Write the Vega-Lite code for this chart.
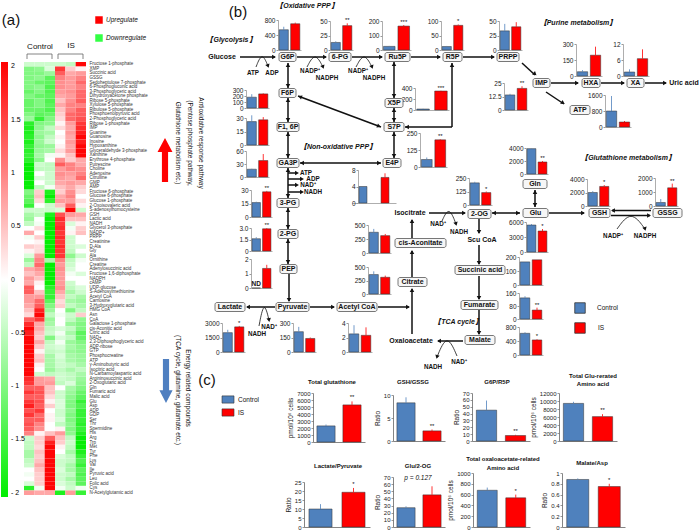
{
"$schema":"https://vega.github.io/schema/vega-lite/v6.json",
"width":700,"height":532,"padding":0,"autosize":{"type":"none"},"background":"white",
"config":{"font":"Liberation Sans","view":{"stroke":null},
"axis":{"grid":false,"labelFontSize":6.5,"labelColor":"#222","labelFont":"Liberation Sans","domainColor":"#999","domainWidth":0.8,"tickColor":"#999","tickSize":2,"labelPadding":1,"labelOverlap":false,"titleFontSize":6.5,"titleFontWeight":"normal","titleColor":"#222","titlePadding":3,"titleFont":"Liberation Sans"},
"range":{"category":["#4f81bd","#ff0000"]},
"bar":{"stroke":"#333","strokeWidth":0.5},
"text":{"font":"Liberation Sans","color":"#111"}},
"resolve":{"scale":{"x":"independent","y":"independent"}},
"datasets":{
"names":[{"r":1,"m":"Fructose 1-phosphate"},{"r":2,"m":"XMP"},{"r":3,"m":"Succinic acid"},{"r":4,"m":"GSSG"},{"r":5,"m":"Sedoheptulose 7-phosphate"},{"r":6,"m":"6-Phosphogluconic acid"},{"r":7,"m":"3-Phosphoglyceric acid"},{"r":8,"m":"Dihydroxyacetone phosphate"},{"r":9,"m":"Ribose 5-phosphate"},{"r":10,"m":"Xylulose 5-phosphate"},{"r":11,"m":"Ribulose 5-phosphate"},{"r":12,"m":"Phosphoenolpyruvic acid"},{"r":13,"m":"2-Phosphoglyceric acid"},{"r":14,"m":"Ribose 1-phosphate"},{"r":15,"m":"IMP"},{"r":16,"m":"Guanine"},{"r":17,"m":"Guanosine"},{"r":18,"m":"Inosine"},{"r":19,"m":"Hypoxanthine"},{"r":20,"m":"Glyceraldehyde 3-phosphate"},{"r":21,"m":"Xanthine"},{"r":22,"m":"Erythrose 4-phosphate"},{"r":23,"m":"Putrescine"},{"r":24,"m":"Choline"},{"r":25,"m":"Adenosine"},{"r":26,"m":"Citrulline"},{"r":27,"m":"GMP"},{"r":28,"m":"AMP"},{"r":29,"m":"Fructose 6-phosphate"},{"r":30,"m":"Glucose 6-phosphate"},{"r":31,"m":"Glucose 1-phosphate"},{"r":32,"m":"2-Oxoisovaleric acid"},{"r":33,"m":"S-adenosylhomocysteine"},{"r":34,"m":"GSH"},{"r":35,"m":"Lactic acid"},{"r":36,"m":"NADH"},{"r":37,"m":"Glycerol 3-phosphate"},{"r":38,"m":"NADP+"},{"r":39,"m":"PRPP"},{"r":40,"m":"Creatinine"},{"r":41,"m":"D-Ala"},{"r":42,"m":"Gly"},{"r":43,"m":"Ala"},{"r":44,"m":"Ornithine"},{"r":45,"m":"Creatine"},{"r":46,"m":"Adenylosuccinic acid"},{"r":47,"m":"Fructose 1,6-diphosphate"},{"r":48,"m":"NADPH"},{"r":49,"m":"cAMP"},{"r":50,"m":"UDP-glucose"},{"r":51,"m":"S-Adenosylmethionine"},{"r":52,"m":"Acetyl CoA"},{"r":53,"m":"Carnosine"},{"r":54,"m":"3-Hydroxyglutaric acid"},{"r":55,"m":"HMG CoA"},{"r":56,"m":"Asn"},{"r":57,"m":"CoA"},{"r":58,"m":"Galactose 1-phosphate"},{"r":59,"m":"cis-Aconitic acid"},{"r":60,"m":"Citric acid"},{"r":61,"m":"NAD+"},{"r":62,"m":"2,3-Diphosphoglyceric acid"},{"r":63,"m":"ADP-ribose"},{"r":64,"m":"GTP"},{"r":65,"m":"Phosphocreatine"},{"r":66,"m":"ATP"},{"r":67,"m":"γ-Aminobutyric acid"},{"r":68,"m":"Isocitric acid"},{"r":69,"m":"N-Carbamoylaspartic acid"},{"r":70,"m":"Argininosuccinic acid"},{"r":71,"m":"2-Oxoglutaric acid"},{"r":72,"m":"Gln"},{"r":73,"m":"Fumaric acid"},{"r":74,"m":"Malic acid"},{"r":75,"m":"Glu"},{"r":76,"m":"Asp"},{"r":77,"m":"ADP"},{"r":78,"m":"GDP"},{"r":79,"m":"Ser"},{"r":80,"m":"Thr"},{"r":81,"m":"Spermidine"},{"r":82,"m":"His"},{"r":83,"m":"Arg"},{"r":84,"m":"Trp"},{"r":85,"m":"Met"},{"r":86,"m":"Tyr"},{"r":87,"m":"Phe"},{"r":88,"m":"Lys"},{"r":89,"m":"Val"},{"r":90,"m":"Ile"},{"r":91,"m":"Pyruvic acid"},{"r":92,"m":"Leu"},{"r":93,"m":"Folic acid"},{"r":94,"m":"Cys"},{"r":95,"m":"N-Acetylglutamic acid"}],
"hm":[
{"r":1,"s":1,"v":-0.4},{"r":1,"s":2,"v":-0.4},{"r":1,"s":3,"v":-0.4},{"r":1,"s":4,"v":-0.4},{"r":1,"s":5,"v":-0.5},{"r":1,"s":6,"v":2.0},
{"r":2,"s":1,"v":-1.0},{"r":2,"s":2,"v":-0.9},{"r":2,"s":3,"v":-0.3},{"r":2,"s":4,"v":1.6},{"r":2,"s":5,"v":0.4},{"r":2,"s":6,"v":0.1},
{"r":3,"s":1,"v":-1.0},{"r":3,"s":2,"v":-1.0},{"r":3,"s":3,"v":-0.8},{"r":3,"s":4,"v":1.3},{"r":3,"s":5,"v":0.7},{"r":3,"s":6,"v":0.8},
{"r":4,"s":1,"v":-1.0},{"r":4,"s":2,"v":-0.9},{"r":4,"s":3,"v":-1.3},{"r":4,"s":4,"v":1.0},{"r":4,"s":5,"v":0.8},{"r":4,"s":6,"v":1.0},
{"r":5,"s":1,"v":-1.0},{"r":5,"s":2,"v":-1.2},{"r":5,"s":3,"v":-1.3},{"r":5,"s":4,"v":0.9},{"r":5,"s":5,"v":0.8},{"r":5,"s":6,"v":1.2},
{"r":6,"s":1,"v":-1.0},{"r":6,"s":2,"v":-0.9},{"r":6,"s":3,"v":-1.4},{"r":6,"s":4,"v":0.9},{"r":6,"s":5,"v":0.8},{"r":6,"s":6,"v":1.0},
{"r":7,"s":1,"v":-1.2},{"r":7,"s":2,"v":-1.0},{"r":7,"s":3,"v":-1.4},{"r":7,"s":4,"v":0.8},{"r":7,"s":5,"v":0.9},{"r":7,"s":6,"v":1.2},
{"r":8,"s":1,"v":-1.0},{"r":8,"s":2,"v":-1.2},{"r":8,"s":3,"v":-1.3},{"r":8,"s":4,"v":0.7},{"r":8,"s":5,"v":0.8},{"r":8,"s":6,"v":1.2},
{"r":9,"s":1,"v":-1.2},{"r":9,"s":2,"v":-1.0},{"r":9,"s":3,"v":-1.4},{"r":9,"s":4,"v":0.5},{"r":9,"s":5,"v":0.9},{"r":9,"s":6,"v":1.3},
{"r":10,"s":1,"v":-1.2},{"r":10,"s":2,"v":-1.0},{"r":10,"s":3,"v":-1.3},{"r":10,"s":4,"v":0.7},{"r":10,"s":5,"v":1.0},{"r":10,"s":6,"v":1.0},
{"r":11,"s":1,"v":-1.2},{"r":11,"s":2,"v":-1.2},{"r":11,"s":3,"v":-1.4},{"r":11,"s":4,"v":0.5},{"r":11,"s":5,"v":1.0},{"r":11,"s":6,"v":1.3},
{"r":12,"s":1,"v":-1.0},{"r":12,"s":2,"v":-1.3},{"r":12,"s":3,"v":-1.2},{"r":12,"s":4,"v":0.4},{"r":12,"s":5,"v":1.2},{"r":12,"s":6,"v":1.3},
{"r":13,"s":1,"v":-0.8},{"r":13,"s":2,"v":-1.6},{"r":13,"s":3,"v":-1.0},{"r":13,"s":4,"v":0.3},{"r":13,"s":5,"v":1.2},{"r":13,"s":6,"v":1.4},
{"r":14,"s":1,"v":-1.7},{"r":14,"s":2,"v":-1.0},{"r":14,"s":3,"v":-0.9},{"r":14,"s":4,"v":0.1},{"r":14,"s":5,"v":0.8},{"r":14,"s":6,"v":1.6},
{"r":15,"s":1,"v":-1.8},{"r":15,"s":2,"v":-0.9},{"r":15,"s":3,"v":-0.5},{"r":15,"s":4,"v":0.3},{"r":15,"s":5,"v":0.7},{"r":15,"s":6,"v":1.7},
{"r":16,"s":1,"v":-1.8},{"r":16,"s":2,"v":-0.8},{"r":16,"s":3,"v":-0.7},{"r":16,"s":4,"v":0},{"r":16,"s":5,"v":0.8},{"r":16,"s":6,"v":1.8},
{"r":17,"s":1,"v":-1.7},{"r":17,"s":2,"v":-0.9},{"r":17,"s":3,"v":-0.5},{"r":17,"s":4,"v":0.1},{"r":17,"s":5,"v":0.7},{"r":17,"s":6,"v":2.0},
{"r":18,"s":1,"v":-1.8},{"r":18,"s":2,"v":-0.8},{"r":18,"s":3,"v":-0.4},{"r":18,"s":4,"v":0},{"r":18,"s":5,"v":0.8},{"r":18,"s":6,"v":1.8},
{"r":19,"s":1,"v":-1.6},{"r":19,"s":2,"v":-0.9},{"r":19,"s":3,"v":-0.8},{"r":19,"s":4,"v":0.1},{"r":19,"s":5,"v":0.7},{"r":19,"s":6,"v":2.0},
{"r":20,"s":1,"v":-1.7},{"r":20,"s":2,"v":-0.8},{"r":20,"s":3,"v":-0.7},{"r":20,"s":4,"v":0.3},{"r":20,"s":5,"v":0.8},{"r":20,"s":6,"v":2.0},
{"r":21,"s":1,"v":-1.6},{"r":21,"s":2,"v":-0.7},{"r":21,"s":3,"v":-0.1},{"r":21,"s":4,"v":0.1},{"r":21,"s":5,"v":0.5},{"r":21,"s":6,"v":2.0},
{"r":22,"s":1,"v":-1.7},{"r":22,"s":2,"v":-0.9},{"r":22,"s":3,"v":0},{"r":22,"s":4,"v":0.9},{"r":22,"s":5,"v":0.4},{"r":22,"s":6,"v":0.7},
{"r":23,"s":1,"v":-2.0},{"r":23,"s":2,"v":-0.4},{"r":23,"s":3,"v":-0.5},{"r":23,"s":4,"v":1.3},{"r":23,"s":5,"v":1.0},{"r":23,"s":6,"v":0.7},
{"r":24,"s":1,"v":-2.0},{"r":24,"s":2,"v":-0.5},{"r":24,"s":3,"v":-0.5},{"r":24,"s":4,"v":0.8},{"r":24,"s":5,"v":1.0},{"r":24,"s":6,"v":0.9},
{"r":25,"s":1,"v":-2.0},{"r":25,"s":2,"v":0},{"r":25,"s":3,"v":-0.4},{"r":25,"s":4,"v":0.9},{"r":25,"s":5,"v":0.8},{"r":25,"s":6,"v":1.0},
{"r":26,"s":1,"v":-2.0},{"r":26,"s":2,"v":-0.3},{"r":26,"s":3,"v":-0.4},{"r":26,"s":4,"v":0.8},{"r":26,"s":5,"v":0.7},{"r":26,"s":6,"v":1.2},
{"r":27,"s":1,"v":-2.0},{"r":27,"s":2,"v":0},{"r":27,"s":3,"v":-0.4},{"r":27,"s":4,"v":0.7},{"r":27,"s":5,"v":0.8},{"r":27,"s":6,"v":0.7},
{"r":28,"s":1,"v":-2.0},{"r":28,"s":2,"v":-0.5},{"r":28,"s":3,"v":-0.1},{"r":28,"s":4,"v":0.5},{"r":28,"s":5,"v":0.7},{"r":28,"s":6,"v":0.4},
{"r":29,"s":1,"v":-1.0},{"r":29,"s":2,"v":0.4},{"r":29,"s":3,"v":-1.8},{"r":29,"s":4,"v":0.4},{"r":29,"s":5,"v":0.9},{"r":29,"s":6,"v":0.3},
{"r":30,"s":1,"v":-1.2},{"r":30,"s":2,"v":0.5},{"r":30,"s":3,"v":-2.0},{"r":30,"s":4,"v":0.7},{"r":30,"s":5,"v":1.0},{"r":30,"s":6,"v":0},
{"r":31,"s":1,"v":-1.3},{"r":31,"s":2,"v":0.3},{"r":31,"s":3,"v":-1.7},{"r":31,"s":4,"v":0.8},{"r":31,"s":5,"v":0.8},{"r":31,"s":6,"v":0.3},
{"r":32,"s":1,"v":-1.6},{"r":32,"s":2,"v":0},{"r":32,"s":3,"v":-0.4},{"r":32,"s":4,"v":0.5},{"r":32,"s":5,"v":1.3},{"r":32,"s":6,"v":0.1},
{"r":33,"s":1,"v":-0.4},{"r":33,"s":2,"v":-0.4},{"r":33,"s":3,"v":-0.4},{"r":33,"s":4,"v":-0.3},{"r":33,"s":5,"v":2.0},{"r":33,"s":6,"v":-0.4},
{"r":34,"s":1,"v":-0.7},{"r":34,"s":2,"v":-0.5},{"r":34,"s":3,"v":-1.8},{"r":34,"s":4,"v":1.4},{"r":34,"s":5,"v":0.8},{"r":34,"s":6,"v":0.7},
{"r":35,"s":1,"v":-0.8},{"r":35,"s":2,"v":0},{"r":35,"s":3,"v":-2.0},{"r":35,"s":4,"v":1.7},{"r":35,"s":5,"v":0.5},{"r":35,"s":6,"v":0.5},
{"r":36,"s":1,"v":-0.5},{"r":36,"s":2,"v":-0.1},{"r":36,"s":3,"v":-2.0},{"r":36,"s":4,"v":1.6},{"r":36,"s":5,"v":-0.3},{"r":36,"s":6,"v":0.1},
{"r":37,"s":1,"v":0},{"r":37,"s":2,"v":0.3},{"r":37,"s":3,"v":-2.0},{"r":37,"s":4,"v":1.7},{"r":37,"s":5,"v":-0.1},{"r":37,"s":6,"v":0.4},
{"r":38,"s":1,"v":0.7},{"r":38,"s":2,"v":0},{"r":38,"s":3,"v":-2.0},{"r":38,"s":4,"v":1.6},{"r":38,"s":5,"v":0.1},{"r":38,"s":6,"v":0.5},
{"r":39,"s":1,"v":-0.1},{"r":39,"s":2,"v":0.4},{"r":39,"s":3,"v":-2.0},{"r":39,"s":4,"v":1.7},{"r":39,"s":5,"v":-0.4},{"r":39,"s":6,"v":0},
{"r":40,"s":1,"v":0},{"r":40,"s":2,"v":0.1},{"r":40,"s":3,"v":-2.0},{"r":40,"s":4,"v":1.6},{"r":40,"s":5,"v":-0.4},{"r":40,"s":6,"v":0},
{"r":41,"s":1,"v":0.4},{"r":41,"s":2,"v":0.3},{"r":41,"s":3,"v":-2.0},{"r":41,"s":4,"v":1.7},{"r":41,"s":5,"v":-0.4},{"r":41,"s":6,"v":-0.3},
{"r":42,"s":1,"v":0.1},{"r":42,"s":2,"v":0.3},{"r":42,"s":3,"v":-2.0},{"r":42,"s":4,"v":1.6},{"r":42,"s":5,"v":-0.5},{"r":42,"s":6,"v":0},
{"r":43,"s":1,"v":-0.3},{"r":43,"s":2,"v":0.8},{"r":43,"s":3,"v":-2.0},{"r":43,"s":4,"v":1.6},{"r":43,"s":5,"v":-0.9},{"r":43,"s":6,"v":-0.4},
{"r":44,"s":1,"v":-0.8},{"r":44,"s":2,"v":1.0},{"r":44,"s":3,"v":-0.7},{"r":44,"s":4,"v":1.0},{"r":44,"s":5,"v":-0.5},{"r":44,"s":6,"v":-0.1},
{"r":45,"s":1,"v":-0.5},{"r":45,"s":2,"v":1.2},{"r":45,"s":3,"v":-2.0},{"r":45,"s":4,"v":0.8},{"r":45,"s":5,"v":-0.4},{"r":45,"s":6,"v":0},
{"r":46,"s":1,"v":0.7},{"r":46,"s":2,"v":0.9},{"r":46,"s":3,"v":-2.0},{"r":46,"s":4,"v":0.9},{"r":46,"s":5,"v":-0.3},{"r":46,"s":6,"v":0},
{"r":47,"s":1,"v":0.5},{"r":47,"s":2,"v":0.7},{"r":47,"s":3,"v":-2.0},{"r":47,"s":4,"v":0.8},{"r":47,"s":5,"v":-0.1},{"r":47,"s":6,"v":-0.3},
{"r":48,"s":1,"v":0.8},{"r":48,"s":2,"v":0.5},{"r":48,"s":3,"v":-2.0},{"r":48,"s":4,"v":0.8},{"r":48,"s":5,"v":0},{"r":48,"s":6,"v":0},
{"r":49,"s":1,"v":0.7},{"r":49,"s":2,"v":0.1},{"r":49,"s":3,"v":-2.0},{"r":49,"s":4,"v":0.8},{"r":49,"s":5,"v":-0.4},{"r":49,"s":6,"v":0},
{"r":50,"s":1,"v":1.3},{"r":50,"s":2,"v":0},{"r":50,"s":3,"v":-1.7},{"r":50,"s":4,"v":0.9},{"r":50,"s":5,"v":-0.5},{"r":50,"s":6,"v":-0.3},
{"r":51,"s":1,"v":1.3},{"r":51,"s":2,"v":0.5},{"r":51,"s":3,"v":-1.6},{"r":51,"s":4,"v":0.7},{"r":51,"s":5,"v":-0.7},{"r":51,"s":6,"v":-0.4},
{"r":52,"s":1,"v":0.8},{"r":52,"s":2,"v":0.8},{"r":52,"s":3,"v":-1.6},{"r":52,"s":4,"v":0.5},{"r":52,"s":5,"v":-0.5},{"r":52,"s":6,"v":-0.7},
{"r":53,"s":1,"v":0.8},{"r":53,"s":2,"v":1.2},{"r":53,"s":3,"v":-1.3},{"r":53,"s":4,"v":0.3},{"r":53,"s":5,"v":-0.7},{"r":53,"s":6,"v":-0.8},
{"r":54,"s":1,"v":0.7},{"r":54,"s":2,"v":1.3},{"r":54,"s":3,"v":-1.0},{"r":54,"s":4,"v":0.4},{"r":54,"s":5,"v":-0.5},{"r":54,"s":6,"v":-0.7},
{"r":55,"s":1,"v":0.5},{"r":55,"s":2,"v":1.8},{"r":55,"s":3,"v":-0.8},{"r":55,"s":4,"v":0},{"r":55,"s":5,"v":-1.0},{"r":55,"s":6,"v":-0.5},
{"r":56,"s":1,"v":0.3},{"r":56,"s":2,"v":2.0},{"r":56,"s":3,"v":-0.5},{"r":56,"s":4,"v":-0.1},{"r":56,"s":5,"v":-0.4},{"r":56,"s":6,"v":0.4},
{"r":57,"s":1,"v":1.3},{"r":57,"s":2,"v":1.6},{"r":57,"s":3,"v":-0.8},{"r":57,"s":4,"v":0},{"r":57,"s":5,"v":-0.5},{"r":57,"s":6,"v":-0.9},
{"r":58,"s":1,"v":1.7},{"r":58,"s":2,"v":0.7},{"r":58,"s":3,"v":-0.7},{"r":58,"s":4,"v":0},{"r":58,"s":5,"v":-0.8},{"r":58,"s":6,"v":-1.0},
{"r":59,"s":1,"v":2.0},{"r":59,"s":2,"v":0.7},{"r":59,"s":3,"v":-0.5},{"r":59,"s":4,"v":-0.3},{"r":59,"s":5,"v":-0.5},{"r":59,"s":6,"v":-1.0},
{"r":60,"s":1,"v":1.8},{"r":60,"s":2,"v":0.5},{"r":60,"s":3,"v":-0.4},{"r":60,"s":4,"v":-0.1},{"r":60,"s":5,"v":-0.7},{"r":60,"s":6,"v":-1.3},
{"r":61,"s":1,"v":2.0},{"r":61,"s":2,"v":0.4},{"r":61,"s":3,"v":-1.0},{"r":61,"s":4,"v":-0.3},{"r":61,"s":5,"v":-0.5},{"r":61,"s":6,"v":-1.2},
{"r":62,"s":1,"v":2.0},{"r":62,"s":2,"v":0.7},{"r":62,"s":3,"v":-0.5},{"r":62,"s":4,"v":-0.1},{"r":62,"s":5,"v":-0.8},{"r":62,"s":6,"v":-1.0},
{"r":63,"s":1,"v":2.0},{"r":63,"s":2,"v":0.4},{"r":63,"s":3,"v":-0.4},{"r":63,"s":4,"v":-0.3},{"r":63,"s":5,"v":-0.7},{"r":63,"s":6,"v":-0.9},
{"r":64,"s":1,"v":2.0},{"r":64,"s":2,"v":0.1},{"r":64,"s":3,"v":-0.5},{"r":64,"s":4,"v":-0.4},{"r":64,"s":5,"v":-0.8},{"r":64,"s":6,"v":-0.9},
{"r":65,"s":1,"v":2.0},{"r":65,"s":2,"v":0.4},{"r":65,"s":3,"v":-0.7},{"r":65,"s":4,"v":-0.3},{"r":65,"s":5,"v":-0.7},{"r":65,"s":6,"v":-0.8},
{"r":66,"s":1,"v":2.0},{"r":66,"s":2,"v":0.5},{"r":66,"s":3,"v":-0.7},{"r":66,"s":4,"v":-0.4},{"r":66,"s":5,"v":-0.7},{"r":66,"s":6,"v":-0.8},
{"r":67,"s":1,"v":2.0},{"r":67,"s":2,"v":0.1},{"r":67,"s":3,"v":-0.7},{"r":67,"s":4,"v":-0.4},{"r":67,"s":5,"v":-0.5},{"r":67,"s":6,"v":-0.7},
{"r":68,"s":1,"v":2.0},{"r":68,"s":2,"v":0},{"r":68,"s":3,"v":-0.8},{"r":68,"s":4,"v":-0.5},{"r":68,"s":5,"v":-0.7},{"r":68,"s":6,"v":-0.5},
{"r":69,"s":1,"v":2.0},{"r":69,"s":2,"v":-0.4},{"r":69,"s":3,"v":-0.5},{"r":69,"s":4,"v":-0.4},{"r":69,"s":5,"v":-0.5},{"r":69,"s":6,"v":-0.7},
{"r":70,"s":1,"v":1.7},{"r":70,"s":2,"v":0.8},{"r":70,"s":3,"v":0.7},{"r":70,"s":4,"v":-0.4},{"r":70,"s":5,"v":-0.5},{"r":70,"s":6,"v":-0.8},
{"r":71,"s":1,"v":1.6},{"r":71,"s":2,"v":0.8},{"r":71,"s":3,"v":0.8},{"r":71,"s":4,"v":-0.5},{"r":71,"s":5,"v":-0.3},{"r":71,"s":6,"v":-0.9},
{"r":72,"s":1,"v":1.3},{"r":72,"s":2,"v":1.3},{"r":72,"s":3,"v":0.5},{"r":72,"s":4,"v":0},{"r":72,"s":5,"v":-0.7},{"r":72,"s":6,"v":-1.0},
{"r":73,"s":1,"v":1.6},{"r":73,"s":2,"v":1.4},{"r":73,"s":3,"v":0.5},{"r":73,"s":4,"v":-0.4},{"r":73,"s":5,"v":-0.8},{"r":73,"s":6,"v":-1.2},
{"r":74,"s":1,"v":1.3},{"r":74,"s":2,"v":1.3},{"r":74,"s":3,"v":0.3},{"r":74,"s":4,"v":-0.4},{"r":74,"s":5,"v":-0.9},{"r":74,"s":6,"v":-1.3},
{"r":75,"s":1,"v":1.6},{"r":75,"s":2,"v":1.4},{"r":75,"s":3,"v":0.1},{"r":75,"s":4,"v":-0.3},{"r":75,"s":5,"v":-1.0},{"r":75,"s":6,"v":-1.6},
{"r":76,"s":1,"v":1.8},{"r":76,"s":2,"v":1.3},{"r":76,"s":3,"v":0.4},{"r":76,"s":4,"v":-0.3},{"r":76,"s":5,"v":-1.0},{"r":76,"s":6,"v":-1.4},
{"r":77,"s":1,"v":1.4},{"r":77,"s":2,"v":1.6},{"r":77,"s":3,"v":0},{"r":77,"s":4,"v":-0.4},{"r":77,"s":5,"v":-0.9},{"r":77,"s":6,"v":-1.6},
{"r":78,"s":1,"v":1.6},{"r":78,"s":2,"v":1.2},{"r":78,"s":3,"v":0.1},{"r":78,"s":4,"v":-0.4},{"r":78,"s":5,"v":-1.0},{"r":78,"s":6,"v":-1.6},
{"r":79,"s":1,"v":1.3},{"r":79,"s":2,"v":1.3},{"r":79,"s":3,"v":0.1},{"r":79,"s":4,"v":-0.3},{"r":79,"s":5,"v":-1.0},{"r":79,"s":6,"v":-1.6},
{"r":80,"s":1,"v":1.4},{"r":80,"s":2,"v":1.0},{"r":80,"s":3,"v":0},{"r":80,"s":4,"v":-0.5},{"r":80,"s":5,"v":-0.9},{"r":80,"s":6,"v":-1.7},
{"r":81,"s":1,"v":1.3},{"r":81,"s":2,"v":0.9},{"r":81,"s":3,"v":0},{"r":81,"s":4,"v":0.1},{"r":81,"s":5,"v":-1.0},{"r":81,"s":6,"v":-1.6},
{"r":82,"s":1,"v":1.0},{"r":82,"s":2,"v":0.1},{"r":82,"s":3,"v":0.5},{"r":82,"s":4,"v":0.8},{"r":82,"s":5,"v":-0.9},{"r":82,"s":6,"v":-1.8},
{"r":83,"s":1,"v":-0.4},{"r":83,"s":2,"v":0.4},{"r":83,"s":3,"v":1.3},{"r":83,"s":4,"v":0.5},{"r":83,"s":5,"v":-0.5},{"r":83,"s":6,"v":-2.0},
{"r":84,"s":1,"v":-0.5},{"r":84,"s":2,"v":0.4},{"r":84,"s":3,"v":1.8},{"r":84,"s":4,"v":0.4},{"r":84,"s":5,"v":-0.4},{"r":84,"s":6,"v":-2.0},
{"r":85,"s":1,"v":-0.5},{"r":85,"s":2,"v":0.3},{"r":85,"s":3,"v":2.0},{"r":85,"s":4,"v":0.1},{"r":85,"s":5,"v":-0.5},{"r":85,"s":6,"v":-2.0},
{"r":86,"s":1,"v":-0.7},{"r":86,"s":2,"v":0.5},{"r":86,"s":3,"v":2.0},{"r":86,"s":4,"v":0},{"r":86,"s":5,"v":-0.7},{"r":86,"s":6,"v":-1.8},
{"r":87,"s":1,"v":-0.7},{"r":87,"s":2,"v":0.4},{"r":87,"s":3,"v":2.0},{"r":87,"s":4,"v":-0.3},{"r":87,"s":5,"v":-0.5},{"r":87,"s":6,"v":-1.6},
{"r":88,"s":1,"v":-0.5},{"r":88,"s":2,"v":0.5},{"r":88,"s":3,"v":2.0},{"r":88,"s":4,"v":-0.4},{"r":88,"s":5,"v":-0.5},{"r":88,"s":6,"v":-1.4},
{"r":89,"s":1,"v":-0.4},{"r":89,"s":2,"v":0.7},{"r":89,"s":3,"v":2.0},{"r":89,"s":4,"v":-0.4},{"r":89,"s":5,"v":-0.7},{"r":89,"s":6,"v":-1.6},
{"r":90,"s":1,"v":0},{"r":90,"s":2,"v":0.5},{"r":90,"s":3,"v":2.0},{"r":90,"s":4,"v":-0.3},{"r":90,"s":5,"v":-0.7},{"r":90,"s":6,"v":-1.3},
{"r":91,"s":1,"v":-0.1},{"r":91,"s":2,"v":0.4},{"r":91,"s":3,"v":2.0},{"r":91,"s":4,"v":-0.4},{"r":91,"s":5,"v":-0.5},{"r":91,"s":6,"v":-1.4},
{"r":92,"s":1,"v":0},{"r":92,"s":2,"v":0.4},{"r":92,"s":3,"v":2.0},{"r":92,"s":4,"v":-0.4},{"r":92,"s":5,"v":-0.7},{"r":92,"s":6,"v":-1.3},
{"r":93,"s":1,"v":-0.3},{"r":93,"s":2,"v":0.4},{"r":93,"s":3,"v":2.0},{"r":93,"s":4,"v":-0.3},{"r":93,"s":5,"v":-0.5},{"r":93,"s":6,"v":-1.3},
{"r":94,"s":1,"v":-1.7},{"r":94,"s":2,"v":-0.1},{"r":94,"s":3,"v":2.0},{"r":94,"s":4,"v":-0.1},{"r":94,"s":5,"v":-0.4},{"r":94,"s":6,"v":-0.1},
{"r":95,"s":1,"v":0.8},{"r":95,"s":2,"v":0.7},{"r":95,"s":3,"v":0.7},{"r":95,"s":4,"v":-1.8},{"r":95,"s":5,"v":0.8},{"r":95,"s":6,"v":-1.6}],
"m":[
{"c":"G6P","g":"Control","v":540,"h":620},{"c":"G6P","g":"IS","v":700,"h":730},
{"c":"PG6","g":"Control","v":13,"h":15},{"c":"PG6","g":"IS","v":42,"h":46,"s":"**"},
{"c":"Ru5P","g":"Control","v":25,"h":28},{"c":"Ru5P","g":"IS","v":165,"h":172,"s":"***"},
{"c":"R5P","g":"Control","v":12,"h":14},{"c":"R5P","g":"IS","v":85,"h":88,"s":"*"},
{"c":"PRPP","g":"Control","v":33,"h":45},{"c":"PRPP","g":"IS","v":40,"h":48},
{"c":"IMP","g":"Control","v":14,"h":15},{"c":"IMP","g":"IS","v":20,"h":22,"s":"**"},
{"c":"HXA","g":"Control","v":40,"h":55},{"c":"HXA","g":"IS","v":195,"h":275},
{"c":"XA","g":"Control","v":1.5,"h":2.5},{"c":"XA","g":"IS","v":6.5,"h":10},
{"c":"ATPm","g":"Control","v":800,"h":1550},{"c":"ATPm","g":"IS","v":250,"h":300},
{"c":"F6P","g":"Control","v":180,"h":230},{"c":"F6P","g":"IS","v":235,"h":245},
{"c":"F16P","g":"Control","v":26,"h":33},{"c":"F16P","g":"IS","v":28,"h":31},
{"c":"GA3P","g":"Control","v":18,"h":19},{"c":"GA3P","g":"IS","v":38,"h":53},
{"c":"PG3","g":"Control","v":16,"h":17},{"c":"PG3","g":"IS","v":28,"h":29,"s":"**"},
{"c":"PG2","g":"Control","v":1.6,"h":1.8},{"c":"PG2","g":"IS","v":2.9,"h":3.0,"s":"**"},
{"c":"PEP","g":"Control","v":0,"h":0,"s":"ND"},{"c":"PEP","g":"IS","v":1.35,"h":1.6},
{"c":"Lac","g":"Control","v":2000,"h":2300},{"c":"Lac","g":"IS","v":2600,"h":2700,"s":"*"},
{"c":"Pyr","g":"Control","v":210,"h":260},{"c":"Pyr","g":"IS","v":140,"h":150},
{"c":"AcCoA","g":"Control","v":2.5,"h":3.7},{"c":"AcCoA","g":"IS","v":2.3,"h":3.4},
{"c":"Cit","g":"Control","v":360,"h":420},{"c":"Cit","g":"IS","v":310,"h":340},
{"c":"cAc","g":"Control","v":370,"h":430},{"c":"cAc","g":"IS","v":310,"h":340},
{"c":"X5P","g":"Control","v":18,"h":22},{"c":"X5P","g":"IS","v":345,"h":350,"s":"***"},
{"c":"S7P","g":"Control","v":55,"h":70},{"c":"S7P","g":"IS","v":200,"h":205,"s":"**"},
{"c":"E4P","g":"Control","v":4.0,"h":4.0},{"c":"E4P","g":"IS","v":6.2,"h":7.2},
{"c":"Gln","g":"Control","v":3900,"h":3950},{"c":"Gln","g":"IS","v":1850,"h":2000,"s":"**"},
{"c":"OG","g":"Control","v":205,"h":215},{"c":"OG","g":"IS","v":115,"h":125,"s":"*"},
{"c":"Glu","g":"Control","v":5400,"h":5600},{"c":"Glu","g":"IS","v":4200,"h":4600,"s":"*"},
{"c":"GSH","g":"Control","v":2000,"h":2200},{"c":"GSH","g":"IS","v":2900,"h":3100,"s":"*"},
{"c":"GSSG","g":"Control","v":250,"h":500},{"c":"GSSG","g":"IS","v":1300,"h":1600,"s":"**"},
{"c":"Suc","g":"Control","v":165,"h":165},{"c":"Suc","g":"IS","v":180,"h":180},
{"c":"Fum","g":"Control","v":130,"h":140},{"c":"Fum","g":"IS","v":55,"h":70,"s":"**"},
{"c":"Mal","g":"Control","v":620,"h":650},{"c":"Mal","g":"IS","v":430,"h":450,"s":"*"},
{"c":"TG","g":"Control","v":2300,"h":2500},{"c":"TG","g":"IS","v":5300,"h":5800,"s":"**"},
{"c":"GG","g":"Control","v":8.3,"h":9.5},{"c":"GG","g":"IS","v":2.2,"h":2.5,"s":"**"},
{"c":"GR","g":"Control","v":45,"h":59},{"c":"GR","g":"IS","v":8,"h":9,"s":"**"},
{"c":"TGlu","g":"Control","v":9400,"h":9800},{"c":"TGlu","g":"IS","v":6100,"h":6700,"s":"**"},
{"c":"LP","g":"Control","v":10,"h":12.7},{"c":"LP","g":"IS","v":19.3,"h":21.7,"s":"*"},
{"c":"G2","g":"Control","v":27,"h":29},{"c":"G2","g":"IS","v":45,"h":57},
{"c":"TOAA","g":"Control","v":680,"h":730},{"c":"TOAA","g":"IS","v":540,"h":600,"s":"*"},
{"c":"MA","g":"Control","v":0.88,"h":0.9},{"c":"MA","g":"IS","v":0.75,"h":0.8,"s":"*"}],
"nodes":[{"t":"G6P","x":287.5,"x1":279,"x2":296,"y":57},{"t":"6-PG","x":340,"x1":329,"x2":351,"y":57},{"t":"Ru5P","x":397.5,"x1":385,"x2":410,"y":57},{"t":"R5P","x":452.5,"x1":443,"x2":462,"y":57},{"t":"PRPP","x":508,"x1":497,"x2":519,"y":57},{"t":"IMP","x":541.5,"x1":533,"x2":550,"y":83},{"t":"HXA","x":591,"x1":582,"x2":600,"y":83},{"t":"XA","x":635.5,"x1":627,"x2":644,"y":83},{"t":"ATP","x":580,"x1":570,"x2":590,"y":110},{"t":"F6P","x":287.5,"x1":279,"x2":296,"y":93},{"t":"F1, 6P","x":288,"x1":277,"x2":299,"y":127},{"t":"GA3P","x":288,"x1":277,"x2":299,"y":163},{"t":"3-PG","x":288,"x1":277,"x2":299,"y":203},{"t":"2-PG","x":288,"x1":278,"x2":298,"y":234},{"t":"PEP","x":288.5,"x1":280,"x2":297,"y":269},{"t":"Pyruvate","x":292.5,"x1":276,"x2":309,"y":307},{"t":"Lactate","x":230,"x1":215,"x2":245,"y":307},{"t":"Acetyl CoA","x":357,"x1":337,"x2":377,"y":307},{"t":"X5P","x":394,"x1":385,"x2":403,"y":103},{"t":"S7P","x":394,"x1":384,"x2":404,"y":127},{"t":"E4P","x":392,"x1":383,"x2":401,"y":163},{"t":"Citrate","x":412.5,"x1":398,"x2":427,"y":282},{"t":"cis-Aconitate","x":420.5,"x1":395,"x2":446,"y":243},{"t":"2-OG","x":479.5,"x1":468,"x2":491,"y":214},{"t":"Glu","x":535.5,"x1":523,"x2":548,"y":213},{"t":"Gln","x":535,"x1":523,"x2":547,"y":184},{"t":"GSH","x":599.5,"x1":589,"x2":610,"y":213},{"t":"GSSG","x":667.5,"x1":653,"x2":682,"y":213},{"t":"Succinic acid","x":480,"x1":455,"x2":505,"y":270},{"t":"Fumarate","x":479.5,"x1":461,"x2":498,"y":305},{"t":"Malate","x":480,"x1":465,"x2":495,"y":340}],
"segs":[{"x":240,"y":57,"x2":275,"y2":57},{"x":297,"y":57,"x2":326,"y2":57},{"x":352,"y":57,"x2":382,"y2":57},{"x":411,"y":57,"x2":440,"y2":57},{"x":463,"y":57,"x2":494,"y2":57},{"x":522,"y":63,"x2":535,"y2":75},{"x":551,"y":83,"x2":578,"y2":83},{"x":601,"y":83,"x2":624,"y2":83},{"x":645,"y":83,"x2":666,"y2":83},{"x":546,"y":92,"x2":564,"y2":104},{"x":288,"y":63,"x2":288,"y2":88},{"x":288,"y":98,"x2":288,"y2":122},{"x":288,"y":132,"x2":288,"y2":158},{"x":288,"y":168,"x2":288,"y2":198},{"x":288,"y":208,"x2":288,"y2":229},{"x":288,"y":239,"x2":288,"y2":264},{"x":289,"y":274,"x2":289,"y2":301},{"x":275,"y":307,"x2":247,"y2":307},{"x":310,"y":307,"x2":334,"y2":307},{"x":378,"y":307,"x2":409,"y2":307},{"x":394,"y":62,"x2":394,"y2":98},{"x":394,"y":108,"x2":394,"y2":122},{"x":394,"y":132,"x2":394,"y2":158},{"x":300,"y":163,"x2":381,"y2":163},{"x":298,"y":96,"x2":381,"y2":127},{"x":405,"y":127,"x2":452,"y2":127},{"x":452,"y":127,"x2":452,"y2":63},{"x":288,"y":173,"x2":297,"y2":173},{"x":288,"y":179,"x2":302,"y2":179},{"x":288,"y":185,"x2":297,"y2":185},{"x":288,"y":192,"x2":302,"y2":192},{"x":412,"y":334,"x2":412,"y2":289},{"x":412,"y":277,"x2":412,"y2":251},{"x":412,"y":238,"x2":412,"y2":220},{"x":429,"y":213,"x2":465,"y2":213},{"x":492,"y":213,"x2":520,"y2":213},{"x":535,"y":190,"x2":535,"y2":207},{"x":549,"y":213,"x2":584,"y2":213},{"x":611,"y":215.5,"x2":650,"y2":215.5},{"x":651,"y":210.5,"x2":612,"y2":210.5},{"x":479,"y":219,"x2":479,"y2":233},{"x":479,"y":245,"x2":479,"y2":264},{"x":479,"y":276,"x2":479,"y2":299},{"x":479,"y":310,"x2":479,"y2":334},{"x":463,"y":341,"x2":438,"y2":341}],
"heads":[{"x":274,"y":57,"a":90},{"x":325,"y":57,"a":90},{"x":381,"y":57,"a":90},{"x":439,"y":57,"a":90},{"x":493,"y":57,"a":90},{"x":535,"y":74,"a":131},{"x":577,"y":83,"a":90},{"x":623,"y":83,"a":90},{"x":665,"y":83,"a":90},{"x":563,"y":103,"a":124},{"x":288,"y":65,"a":0},{"x":288,"y":86,"a":180},{"x":288,"y":100,"a":0},{"x":288,"y":120,"a":180},{"x":288,"y":134,"a":0},{"x":288,"y":156,"a":180},{"x":288,"y":170,"a":0},{"x":288,"y":196,"a":180},{"x":288,"y":210,"a":0},{"x":288,"y":227,"a":180},{"x":288,"y":241,"a":0},{"x":288,"y":262,"a":180},{"x":289,"y":300,"a":180},{"x":248,"y":307,"a":270},{"x":333,"y":307,"a":90},{"x":408,"y":307,"a":90},{"x":394,"y":64,"a":0},{"x":394,"y":96,"a":180},{"x":394,"y":110,"a":0},{"x":394,"y":120,"a":180},{"x":394,"y":134,"a":0},{"x":394,"y":156,"a":180},{"x":302,"y":163,"a":270},{"x":379,"y":163,"a":90},{"x":300,"y":96.8,"a":291},{"x":379,"y":126.2,"a":111},{"x":407,"y":127,"a":270},{"x":452,"y":65,"a":0},{"x":297,"y":173,"a":90},{"x":302,"y":179,"a":90},{"x":297,"y":185,"a":90},{"x":302,"y":192,"a":90},{"x":412,"y":290,"a":0},{"x":412,"y":252,"a":0},{"x":412,"y":221,"a":0},{"x":464,"y":213,"a":90},{"x":494,"y":213,"a":270},{"x":518,"y":213,"a":90},{"x":535,"y":192,"a":0},{"x":535,"y":205,"a":180},{"x":583,"y":213,"a":90},{"x":649,"y":215.5,"a":90},{"x":613,"y":210.5,"a":270},{"x":479,"y":232,"a":180},{"x":479,"y":263,"a":180},{"x":479,"y":298,"a":180},{"x":479,"y":333,"a":180},{"x":439,"y":341,"a":270},{"x":268,"y":66,"a":160},{"x":323,"y":67,"a":160},{"x":372,"y":67,"a":160},{"x":269,"y":320,"a":170},{"x":456,"y":224,"a":165},{"x":437,"y":357,"a":195},{"x":645,"y":229,"a":165}],
"arcs":[{"id":1,"i":1,"x":256,"y":67},{"id":1,"i":2,"x":262,"y":52},{"id":1,"i":3,"x":268,"y":66},{"id":2,"i":1,"x":307,"y":67},{"id":2,"i":2,"x":315,"y":52},{"id":2,"i":3,"x":323,"y":67},{"id":3,"i":1,"x":356,"y":67},{"id":3,"i":2,"x":364,"y":52},{"id":3,"i":3,"x":372,"y":67},{"id":4,"i":1,"x":259,"y":326},{"id":4,"i":2,"x":264,"y":300},{"id":4,"i":3,"x":269,"y":320},{"id":5,"i":1,"x":442,"y":221},{"id":5,"i":2,"x":449,"y":206},{"id":5,"i":3,"x":456,"y":224},{"id":6,"i":1,"x":457,"y":356},{"id":6,"i":2,"x":447,"y":333},{"id":6,"i":3,"x":437,"y":357},{"id":7,"i":1,"x":617,"y":229},{"id":7,"i":2,"x":631,"y":210},{"id":7,"i":3,"x":645,"y":229}],
"thin":[{"x":27,"y":54,"x2":52,"y2":54},{"x":27,"y":54,"x2":27,"y2":59},{"x":52,"y":54,"x2":52,"y2":59},{"x":58,"y":54,"x2":83,"y2":54},{"x":58,"y":54,"x2":58,"y2":59},{"x":83,"y":54,"x2":83,"y2":59}],
"pts":[{"k":"aup","x":165,"y":160},{"k":"adn","x":166,"y":381},{"k":"up","x":99,"y":20},{"k":"dn","x":99,"y":38},{"k":"lb","g":"Control","x":580,"y":308},{"k":"lb","g":"IS","x":580,"y":328},{"k":"lc","g":"Control","x":228,"y":399.5},{"k":"lc","g":"IS","x":228,"y":412.5}],
"txt":[{"k":"lab","t":"Glucose","x":222,"y":57},{"k":"lab","t":"Uric acid","x":684,"y":83},{"k":"lab","t":"Isocitrate","x":410,"y":213},{"k":"lab","t":"Oxaloacetate","x":411,"y":341},{"k":"lab","t":"Scu CoA","x":482,"y":240},
{"k":"cof","t":"ATP","x":253,"y":73},{"k":"cof","t":"ADP","x":272,"y":73},{"k":"cof","t":"NADP⁺","x":310,"y":71},{"k":"cof","t":"NADPH","x":327,"y":78},{"k":"cof","t":"NADP⁺","x":358,"y":71},{"k":"cof","t":"NADPH","x":374,"y":78},{"k":"cof","t":"NADH","x":257,"y":334},{"k":"cof","t":"NAD⁺","x":269,"y":327},{"k":"cof","t":"NAD⁺","x":438,"y":224},{"k":"cof","t":"NADH","x":459,"y":232},{"k":"cof","t":"NAD⁺","x":459,"y":362},{"k":"cof","t":"NADH","x":433,"y":367},{"k":"cof","t":"NADP⁺","x":613,"y":236},{"k":"cof","t":"NADPH","x":645,"y":236},{"k":"cof","t":"ATP","x":306,"y":173},{"k":"cof","t":"ADP","x":313,"y":179},{"k":"cof","t":"NAD⁺","x":308,"y":185},{"k":"cof","t":"NADH","x":313,"y":192},
{"k":"sec","t":"【Oxidative PPP】","x":307,"y":6},{"k":"sec","t":"【Glycolysis】","x":231,"y":40},{"k":"sec","t":"【Non-oxidative PPP】","x":338,"y":147},{"k":"sec","t":"【Purine metabolism】","x":578,"y":23},{"k":"sec","t":"【Glutathione  metabolism】","x":628,"y":158},{"k":"sec","t":"【TCA cycle】","x":458,"y":322},
{"k":"pan","t":"(a)","x":11,"y":20},{"k":"pan","t":"(b)","x":238,"y":12},{"k":"pan","t":"(c)","x":207,"y":380},
{"k":"hd","t":"Control","x":40,"y":47},{"k":"hd","t":"IS","x":71,"y":46},
{"k":"legi","t":"Upregulate","x":106,"y":20},{"k":"legi","t":"Downregulate","x":106,"y":38},
{"k":"leg","t":"Control","x":597,"y":308},{"k":"leg","t":"IS","x":598,"y":328},{"k":"leg","t":"Control","x":238,"y":399.5},{"k":"leg","t":"IS","x":238,"y":412.5},
{"k":"tt","t":"Total glutathione","x":332,"y":382},{"k":"tt","t":"GSH/GSSG","x":413,"y":382},{"k":"tt","t":"G6P/R5P","x":497,"y":382},{"k":"tt","t":"Total Glu-rerated","x":593,"y":376},{"k":"tt","t":"Amino acid","x":593,"y":384},{"k":"tt","t":"Lactate/Pyruvate","x":338,"y":466},{"k":"tt","t":"Glu/2-OG","x":418,"y":466},{"k":"tt","t":"Total oxaloacetate-related","x":503,"y":459},{"k":"tt","t":"Amino acid","x":503,"y":468},{"k":"tt","t":"Malate/Asp","x":592,"y":463},
{"k":"it","t":"p = 0.127","x":418,"y":478},
{"k":"rot","t":"Antioxidative response pathway","x":201,"y":143},{"k":"rot","t":"(Pentose phosphate pathway,","x":190,"y":143},{"k":"rot","t":"Glutathione metabolism etc.)","x":178,"y":143},{"k":"rot","t":"Energy related compounds","x":188,"y":388},{"k":"rot","t":"(TCA cycle, glutamine, glutamate etc.)","x":178,"y":390}]
},
"layer":[
{"data":{"name":"hm"},"transform":[{"lookup":"r","from":{"data":{"name":"names"},"key":"r","fields":["m"]}}],"mark":{"type":"rect"},"encoding":{"x":{"field":"s","type":"ordinal","scale":{"range":[24,86],"paddingInner":0,"paddingOuter":0},"axis":null},"y":{"field":"m","type":"nominal","sort":{"field":"r","op":"min"},"scale":{"range":[62,495],"paddingInner":0,"paddingOuter":0},"axis":{"orient":"right","offset":-613,"title":null,"ticks":false,"domain":false,"labelFontSize":4.5,"labelPadding":2,"labelColor":"#333"}},"fill":{"field":"v","type":"quantitative","scale":{"domain":[-2.04,0,2.04],"range":["#00ee00","#ffffff","#ff0000"],"interpolate":"rgb"},"legend":{"orient":"none","legendX":1,"legendY":62,"direction":"vertical","gradientLength":435,"gradientThickness":7,"gradientStrokeWidth":0,"title":null,"values":[2,1.5,1,0.5,0,-0.5,-1,-1.5,-2],"labelFontSize":7,"labelOverlap":false,"labelOffset":3,"labelExpr":"datum.value < 0 ? '- ' + (-datum.value) : '' + datum.value"}}}},
{"encoding":{"x":{"field":"x","type":"quantitative","scale":{"domain":[0,700],"range":[0,700],"zero":false,"nice":false},"axis":null},"y":{"field":"y","type":"quantitative","scale":{"domain":[0,532],"range":[0,532],"zero":false,"nice":false},"axis":null}},
"layer":[
{"data":{"name":"thin"},"mark":{"type":"rule","color":"#666","strokeWidth":0.8},"encoding":{"x2":{"field":"x2"},"y2":{"field":"y2"}}},
{"data":{"name":"segs"},"mark":{"type":"rule","color":"#111","strokeWidth":1.5},"encoding":{"x2":{"field":"x2"},"y2":{"field":"y2"}}},
{"data":{"name":"arcs"},"mark":{"type":"line","interpolate":"basis","color":"#111","strokeWidth":0.8},"encoding":{"detail":{"field":"id"},"order":{"field":"i"}}},
{"data":{"name":"heads"},"mark":{"type":"point","shape":"triangle-up","filled":true,"color":"#111","size":20,"opacity":1},"encoding":{"angle":{"field":"a","type":"quantitative","scale":null}}},
{"data":{"name":"nodes"},"mark":{"type":"rect","cornerRadius":2,"fill":"#f6f6f6","stroke":"#555","strokeWidth":0.8,"yOffset":-4.5,"y2Offset":4.5},"encoding":{"x":{"field":"x1","type":"quantitative","scale":{"domain":[0,700],"range":[0,700],"zero":false,"nice":false}},"x2":{"field":"x2"},"y2":{"field":"y"}}},
{"data":{"name":"nodes"},"mark":{"type":"text","fontWeight":"bold","fontSize":7},"encoding":{"text":{"field":"t"}}},
{"data":{"name":"txt"},"transform":[{"filter":"datum.k=='lab'"}],"mark":{"type":"text","fontWeight":"bold","fontSize":7},"encoding":{"text":{"field":"t"}}},
{"data":{"name":"txt"},"transform":[{"filter":"datum.k=='cof'"}],"mark":{"type":"text","fontWeight":"bold","fontSize":6.3},"encoding":{"text":{"field":"t"}}},
{"data":{"name":"txt"},"transform":[{"filter":"datum.k=='sec'"}],"mark":{"type":"text","fontWeight":"bold","fontStyle":"italic","fontSize":7},"encoding":{"text":{"field":"t"}}},
{"data":{"name":"txt"},"transform":[{"filter":"datum.k=='pan'"}],"mark":{"type":"text","fontSize":15},"encoding":{"text":{"field":"t"}}},
{"data":{"name":"txt"},"transform":[{"filter":"datum.k=='hd'"}],"mark":{"type":"text","fontSize":8},"encoding":{"text":{"field":"t"}}},
{"data":{"name":"txt"},"transform":[{"filter":"datum.k=='legi'"}],"mark":{"type":"text","fontSize":6.5,"fontStyle":"italic","align":"left"},"encoding":{"text":{"field":"t"}}},
{"data":{"name":"txt"},"transform":[{"filter":"datum.k=='leg'"}],"mark":{"type":"text","fontSize":6.5,"align":"left"},"encoding":{"text":{"field":"t"}}},
{"data":{"name":"txt"},"transform":[{"filter":"datum.k=='tt'"}],"mark":{"type":"text","fontSize":6,"fontWeight":"bold"},"encoding":{"text":{"field":"t"}}},
{"data":{"name":"txt"},"transform":[{"filter":"datum.k=='it'"}],"mark":{"type":"text","fontSize":6.5,"fontStyle":"italic"},"encoding":{"text":{"field":"t"}}},
{"data":{"name":"txt"},"transform":[{"filter":"datum.k=='rot'"}],"mark":{"type":"text","fontSize":6.5,"angle":90},"encoding":{"text":{"field":"t"}}},
{"data":{"name":"pts"},"transform":[{"filter":"datum.k=='aup'"}],"mark":{"type":"point","shape":"M0,-1L0.34,-0.36L0.14,-0.36L0.14,1L-0.14,1L-0.14,-0.36L-0.34,-0.36Z","size":1936,"filled":true,"color":"#ff0000","opacity":1}},
{"data":{"name":"pts"},"transform":[{"filter":"datum.k=='adn'"}],"mark":{"type":"point","shape":"M0,1L0.3,0.42L0.14,0.42L0.14,-1L-0.14,-1L-0.14,0.42L-0.3,0.42Z","size":1936,"filled":true,"color":"#4f7fc0","opacity":1}},
{"data":{"name":"pts"},"transform":[{"filter":"datum.k=='up'"}],"mark":{"type":"point","shape":"square","size":56,"filled":true,"color":"#ff0000","opacity":1}},
{"data":{"name":"pts"},"transform":[{"filter":"datum.k=='dn'"}],"mark":{"type":"point","shape":"square","size":56,"filled":true,"color":"#33ff44","opacity":1}},
{"data":{"name":"pts"},"transform":[{"filter":"datum.k=='lb'"}],"mark":{"type":"point","shape":"square","size":110,"filled":true,"stroke":"#333","strokeWidth":0.8,"opacity":1},"encoding":{"color":{"field":"g","legend":null}}},
{"data":{"name":"pts"},"transform":[{"filter":"datum.k=='lc'"}],"mark":{"type":"point","shape":"M-1,-0.6H1V0.6H-1Z","size":144,"filled":true,"stroke":"#333","strokeWidth":0.6,"opacity":1},"encoding":{"color":{"field":"g","legend":null}}}
]},
{"data":{"name":"m"},"transform":[{"filter":"datum.c=='G6P'"}],"encoding":{"x":{"field":"g","type":"nominal","scale":{"range":[278,301],"paddingInner":0.2,"paddingOuter":0.1},"axis":{"orient":"bottom","offset":-482,"labels":false,"ticks":false,"title":null}},"y":{"field":"v","type":"quantitative","scale":{"domain":[0,800],"range":[50,20],"nice":false},"axis":{"orient":"left","offset":-278,"values":[0,400,800],"title":null,"labelExpr":"format(datum.value,'~r')"}}},"layer":[{"mark":"bar","encoding":{"color":{"field":"g","legend":null}}},{"mark":{"type":"rule","strokeWidth":0.8},"encoding":{"y2":{"field":"h"},"color":{"field":"g","legend":null}}},{"transform":[{"filter":"isValid(datum.s)"}],"mark":{"type":"text","dy":-3,"fontSize":6},"encoding":{"y":{"field":"h","type":"quantitative"},"text":{"field":"s"}}}]},
{"data":{"name":"m"},"transform":[{"filter":"datum.c=='PG6'"}],"encoding":{"x":{"field":"g","type":"nominal","scale":{"range":[330,353],"paddingInner":0.2,"paddingOuter":0.1},"axis":{"orient":"bottom","offset":-482,"labels":false,"ticks":false,"title":null}},"y":{"field":"v","type":"quantitative","scale":{"domain":[0,50],"range":[50,21],"nice":false},"axis":{"orient":"left","offset":-330,"values":[0,25,50],"title":null,"labelExpr":"format(datum.value,'~r')"}}},"layer":[{"mark":"bar","encoding":{"color":{"field":"g","legend":null}}},{"mark":{"type":"rule","strokeWidth":0.8},"encoding":{"y2":{"field":"h"},"color":{"field":"g","legend":null}}},{"transform":[{"filter":"isValid(datum.s)"}],"mark":{"type":"text","dy":-3,"fontSize":6},"encoding":{"y":{"field":"h","type":"quantitative"},"text":{"field":"s"}}}]},
{"data":{"name":"m"},"transform":[{"filter":"datum.c=='Ru5P'"}],"encoding":{"x":{"field":"g","type":"nominal","scale":{"range":[382,411],"paddingInner":0.2,"paddingOuter":0.1},"axis":{"orient":"bottom","offset":-482,"labels":false,"ticks":false,"title":null}},"y":{"field":"v","type":"quantitative","scale":{"domain":[0,200],"range":[50,21],"nice":false},"axis":{"orient":"left","offset":-382,"values":[0,100,200],"title":null,"labelExpr":"format(datum.value,'~r')"}}},"layer":[{"mark":"bar","encoding":{"color":{"field":"g","legend":null}}},{"mark":{"type":"rule","strokeWidth":0.8},"encoding":{"y2":{"field":"h"},"color":{"field":"g","legend":null}}},{"transform":[{"filter":"isValid(datum.s)"}],"mark":{"type":"text","dy":-3,"fontSize":6},"encoding":{"y":{"field":"h","type":"quantitative"},"text":{"field":"s"}}}]},
{"data":{"name":"m"},"transform":[{"filter":"datum.c=='R5P'"}],"encoding":{"x":{"field":"g","type":"nominal","scale":{"range":[441,464],"paddingInner":0.2,"paddingOuter":0.1},"axis":{"orient":"bottom","offset":-482,"labels":false,"ticks":false,"title":null}},"y":{"field":"v","type":"quantitative","scale":{"domain":[0,100],"range":[50,21],"nice":false},"axis":{"orient":"left","offset":-441,"values":[0,50,100],"title":null,"labelExpr":"format(datum.value,'~r')"}}},"layer":[{"mark":"bar","encoding":{"color":{"field":"g","legend":null}}},{"mark":{"type":"rule","strokeWidth":0.8},"encoding":{"y2":{"field":"h"},"color":{"field":"g","legend":null}}},{"transform":[{"filter":"isValid(datum.s)"}],"mark":{"type":"text","dy":-3,"fontSize":6},"encoding":{"y":{"field":"h","type":"quantitative"},"text":{"field":"s"}}}]},
{"data":{"name":"m"},"transform":[{"filter":"datum.c=='PRPP'"}],"encoding":{"x":{"field":"g","type":"nominal","scale":{"range":[499,522],"paddingInner":0.2,"paddingOuter":0.1},"axis":{"orient":"bottom","offset":-482,"labels":false,"ticks":false,"title":null}},"y":{"field":"v","type":"quantitative","scale":{"domain":[0,50],"range":[50,21],"nice":false},"axis":{"orient":"left","offset":-499,"values":[0,25,50],"title":null,"labelExpr":"format(datum.value,'~r')"}}},"layer":[{"mark":"bar","encoding":{"color":{"field":"g","legend":null}}},{"mark":{"type":"rule","strokeWidth":0.8},"encoding":{"y2":{"field":"h"},"color":{"field":"g","legend":null}}},{"transform":[{"filter":"isValid(datum.s)"}],"mark":{"type":"text","dy":-3,"fontSize":6},"encoding":{"y":{"field":"h","type":"quantitative"},"text":{"field":"s"}}}]},
{"data":{"name":"m"},"transform":[{"filter":"datum.c=='IMP'"}],"encoding":{"x":{"field":"g","type":"nominal","scale":{"range":[504,528],"paddingInner":0.2,"paddingOuter":0.1},"axis":{"orient":"bottom","offset":-422,"labels":false,"ticks":false,"title":null}},"y":{"field":"v","type":"quantitative","scale":{"domain":[0,25],"range":[110,83],"nice":false},"axis":{"orient":"left","offset":-504,"values":[0,12.5,25],"title":null,"labelExpr":"format(datum.value,'~r')"}}},"layer":[{"mark":"bar","encoding":{"color":{"field":"g","legend":null}}},{"mark":{"type":"rule","strokeWidth":0.8},"encoding":{"y2":{"field":"h"},"color":{"field":"g","legend":null}}},{"transform":[{"filter":"isValid(datum.s)"}],"mark":{"type":"text","dy":-3,"fontSize":6},"encoding":{"y":{"field":"h","type":"quantitative"},"text":{"field":"s"}}}]},
{"data":{"name":"m"},"transform":[{"filter":"datum.c=='HXA'"}],"encoding":{"x":{"field":"g","type":"nominal","scale":{"range":[576,602],"paddingInner":0.2,"paddingOuter":0.1},"axis":{"orient":"bottom","offset":-456,"labels":false,"ticks":false,"title":null}},"y":{"field":"v","type":"quantitative","scale":{"domain":[0,300],"range":[76,44],"nice":false},"axis":{"orient":"left","offset":-576,"values":[0,150,300],"title":null,"labelExpr":"format(datum.value,'~r')"}}},"layer":[{"mark":"bar","encoding":{"color":{"field":"g","legend":null}}},{"mark":{"type":"rule","strokeWidth":0.8},"encoding":{"y2":{"field":"h"},"color":{"field":"g","legend":null}}},{"transform":[{"filter":"isValid(datum.s)"}],"mark":{"type":"text","dy":-3,"fontSize":6},"encoding":{"y":{"field":"h","type":"quantitative"},"text":{"field":"s"}}}]},
{"data":{"name":"m"},"transform":[{"filter":"datum.c=='XA'"}],"encoding":{"x":{"field":"g","type":"nominal","scale":{"range":[623,649],"paddingInner":0.2,"paddingOuter":0.1},"axis":{"orient":"bottom","offset":-456,"labels":false,"ticks":false,"title":null}},"y":{"field":"v","type":"quantitative","scale":{"domain":[0,12],"range":[76,44],"nice":false},"axis":{"orient":"left","offset":-623,"values":[0,6,12],"title":null,"labelExpr":"format(datum.value,'~r')"}}},"layer":[{"mark":"bar","encoding":{"color":{"field":"g","legend":null}}},{"mark":{"type":"rule","strokeWidth":0.8},"encoding":{"y2":{"field":"h"},"color":{"field":"g","legend":null}}},{"transform":[{"filter":"isValid(datum.s)"}],"mark":{"type":"text","dy":-3,"fontSize":6},"encoding":{"y":{"field":"h","type":"quantitative"},"text":{"field":"s"}}}]},
{"data":{"name":"m"},"transform":[{"filter":"datum.c=='ATPm'"}],"encoding":{"x":{"field":"g","type":"nominal","scale":{"range":[605,631],"paddingInner":0.2,"paddingOuter":0.1},"axis":{"orient":"bottom","offset":-405,"labels":false,"ticks":false,"title":null}},"y":{"field":"v","type":"quantitative","scale":{"domain":[0,1600],"range":[127,95],"nice":false},"axis":{"orient":"left","offset":-605,"values":[0,800,1600],"title":null,"labelExpr":"format(datum.value,'~r')"}}},"layer":[{"mark":"bar","encoding":{"color":{"field":"g","legend":null}}},{"mark":{"type":"rule","strokeWidth":0.8},"encoding":{"y2":{"field":"h"},"color":{"field":"g","legend":null}}},{"transform":[{"filter":"isValid(datum.s)"}],"mark":{"type":"text","dy":-3,"fontSize":6},"encoding":{"y":{"field":"h","type":"quantitative"},"text":{"field":"s"}}}]},
{"data":{"name":"m"},"transform":[{"filter":"datum.c=='F6P'"}],"encoding":{"x":{"field":"g","type":"nominal","scale":{"range":[246,269],"paddingInner":0.2,"paddingOuter":0.1},"axis":{"orient":"bottom","offset":-424,"labels":false,"ticks":false,"title":null}},"y":{"field":"v","type":"quantitative","scale":{"domain":[0,300],"range":[108,90],"nice":false},"axis":{"orient":"left","offset":-246,"values":[0,100,200,300],"title":null,"labelExpr":"format(datum.value,'~r')"}}},"layer":[{"mark":"bar","encoding":{"color":{"field":"g","legend":null}}},{"mark":{"type":"rule","strokeWidth":0.8},"encoding":{"y2":{"field":"h"},"color":{"field":"g","legend":null}}},{"transform":[{"filter":"isValid(datum.s)"}],"mark":{"type":"text","dy":-3,"fontSize":6},"encoding":{"y":{"field":"h","type":"quantitative"},"text":{"field":"s"}}}]},
{"data":{"name":"m"},"transform":[{"filter":"datum.c=='F16P'"}],"encoding":{"x":{"field":"g","type":"nominal","scale":{"range":[246,269],"paddingInner":0.2,"paddingOuter":0.1},"axis":{"orient":"bottom","offset":-387,"labels":false,"ticks":false,"title":null}},"y":{"field":"v","type":"quantitative","scale":{"domain":[0,30],"range":[145,118],"nice":false},"axis":{"orient":"left","offset":-246,"values":[0,15,30],"title":null,"labelExpr":"format(datum.value,'~r')"}}},"layer":[{"mark":"bar","encoding":{"color":{"field":"g","legend":null}}},{"mark":{"type":"rule","strokeWidth":0.8},"encoding":{"y2":{"field":"h"},"color":{"field":"g","legend":null}}},{"transform":[{"filter":"isValid(datum.s)"}],"mark":{"type":"text","dy":-3,"fontSize":6},"encoding":{"y":{"field":"h","type":"quantitative"},"text":{"field":"s"}}}]},
{"data":{"name":"m"},"transform":[{"filter":"datum.c=='GA3P'"}],"encoding":{"x":{"field":"g","type":"nominal","scale":{"range":[246,269],"paddingInner":0.2,"paddingOuter":0.1},"axis":{"orient":"bottom","offset":-355,"labels":false,"ticks":false,"title":null}},"y":{"field":"v","type":"quantitative","scale":{"domain":[0,60],"range":[177,151],"nice":false},"axis":{"orient":"left","offset":-246,"values":[0,30,60],"title":null,"labelExpr":"format(datum.value,'~r')"}}},"layer":[{"mark":"bar","encoding":{"color":{"field":"g","legend":null}}},{"mark":{"type":"rule","strokeWidth":0.8},"encoding":{"y2":{"field":"h"},"color":{"field":"g","legend":null}}},{"transform":[{"filter":"isValid(datum.s)"}],"mark":{"type":"text","dy":-3,"fontSize":6},"encoding":{"y":{"field":"h","type":"quantitative"},"text":{"field":"s"}}}]},
{"data":{"name":"m"},"transform":[{"filter":"datum.c=='PG3'"}],"encoding":{"x":{"field":"g","type":"nominal","scale":{"range":[251,272],"paddingInner":0.2,"paddingOuter":0.1},"axis":{"orient":"bottom","offset":-315,"labels":false,"ticks":false,"title":null}},"y":{"field":"v","type":"quantitative","scale":{"domain":[0,30],"range":[217,190],"nice":false},"axis":{"orient":"left","offset":-251,"values":[0,15,30],"title":null,"labelExpr":"format(datum.value,'~r')"}}},"layer":[{"mark":"bar","encoding":{"color":{"field":"g","legend":null}}},{"mark":{"type":"rule","strokeWidth":0.8},"encoding":{"y2":{"field":"h"},"color":{"field":"g","legend":null}}},{"transform":[{"filter":"isValid(datum.s)"}],"mark":{"type":"text","dy":-3,"fontSize":6},"encoding":{"y":{"field":"h","type":"quantitative"},"text":{"field":"s"}}}]},
{"data":{"name":"m"},"transform":[{"filter":"datum.c=='PG2'"}],"encoding":{"x":{"field":"g","type":"nominal","scale":{"range":[251,272],"paddingInner":0.2,"paddingOuter":0.1},"axis":{"orient":"bottom","offset":-281,"labels":false,"ticks":false,"title":null}},"y":{"field":"v","type":"quantitative","scale":{"domain":[0,3],"range":[251,228],"nice":false},"axis":{"orient":"left","offset":-251,"values":[0,1.5,3],"title":null,"labelExpr":"datum.value == 0 ? '0' : format(datum.value, '.1f')"}}},"layer":[{"mark":"bar","encoding":{"color":{"field":"g","legend":null}}},{"mark":{"type":"rule","strokeWidth":0.8},"encoding":{"y2":{"field":"h"},"color":{"field":"g","legend":null}}},{"transform":[{"filter":"isValid(datum.s)"}],"mark":{"type":"text","dy":-3,"fontSize":6},"encoding":{"y":{"field":"h","type":"quantitative"},"text":{"field":"s"}}}]},
{"data":{"name":"m"},"transform":[{"filter":"datum.c=='PEP'"}],"encoding":{"x":{"field":"g","type":"nominal","scale":{"range":[251,272],"paddingInner":0.2,"paddingOuter":0.1},"axis":{"orient":"bottom","offset":-244,"labels":false,"ticks":false,"title":null}},"y":{"field":"v","type":"quantitative","scale":{"domain":[0,2],"range":[288,259],"nice":false},"axis":{"orient":"left","offset":-251,"values":[0,1,2],"title":null,"labelExpr":"format(datum.value,'~r')"}}},"layer":[{"mark":"bar","encoding":{"color":{"field":"g","legend":null}}},{"mark":{"type":"rule","strokeWidth":0.8},"encoding":{"y2":{"field":"h"},"color":{"field":"g","legend":null}}},{"transform":[{"filter":"isValid(datum.s)"}],"mark":{"type":"text","dy":-4,"fontSize":6.5,"fontWeight":"bold"},"encoding":{"y":{"field":"h","type":"quantitative"},"text":{"field":"s"}}}]},
{"data":{"name":"m"},"transform":[{"filter":"datum.c=='Lac'"}],"encoding":{"x":{"field":"g","type":"nominal","scale":{"range":[222,245],"paddingInner":0.2,"paddingOuter":0.1},"axis":{"orient":"bottom","offset":-180,"labels":false,"ticks":false,"title":null}},"y":{"field":"v","type":"quantitative","scale":{"domain":[0,3000],"range":[352,323],"nice":false},"axis":{"orient":"left","offset":-222,"values":[0,1500,3000],"title":null,"labelExpr":"format(datum.value,'~r')"}}},"layer":[{"mark":"bar","encoding":{"color":{"field":"g","legend":null}}},{"mark":{"type":"rule","strokeWidth":0.8},"encoding":{"y2":{"field":"h"},"color":{"field":"g","legend":null}}},{"transform":[{"filter":"isValid(datum.s)"}],"mark":{"type":"text","dy":-3,"fontSize":6},"encoding":{"y":{"field":"h","type":"quantitative"},"text":{"field":"s"}}}]},
{"data":{"name":"m"},"transform":[{"filter":"datum.c=='Pyr'"}],"encoding":{"x":{"field":"g","type":"nominal","scale":{"range":[293,316],"paddingInner":0.2,"paddingOuter":0.1},"axis":{"orient":"bottom","offset":-180,"labels":false,"ticks":false,"title":null}},"y":{"field":"v","type":"quantitative","scale":{"domain":[0,300],"range":[352,323],"nice":false},"axis":{"orient":"left","offset":-293,"values":[0,150,300],"title":null,"labelExpr":"format(datum.value,'~r')"}}},"layer":[{"mark":"bar","encoding":{"color":{"field":"g","legend":null}}},{"mark":{"type":"rule","strokeWidth":0.8},"encoding":{"y2":{"field":"h"},"color":{"field":"g","legend":null}}},{"transform":[{"filter":"isValid(datum.s)"}],"mark":{"type":"text","dy":-3,"fontSize":6},"encoding":{"y":{"field":"h","type":"quantitative"},"text":{"field":"s"}}}]},
{"data":{"name":"m"},"transform":[{"filter":"datum.c=='AcCoA'"}],"encoding":{"x":{"field":"g","type":"nominal","scale":{"range":[348,372],"paddingInner":0.2,"paddingOuter":0.1},"axis":{"orient":"bottom","offset":-180,"labels":false,"ticks":false,"title":null}},"y":{"field":"v","type":"quantitative","scale":{"domain":[0,4],"range":[352,323],"nice":false},"axis":{"orient":"left","offset":-348,"values":[0,2,4],"title":null,"labelExpr":"format(datum.value,'~r')"}}},"layer":[{"mark":"bar","encoding":{"color":{"field":"g","legend":null}}},{"mark":{"type":"rule","strokeWidth":0.8},"encoding":{"y2":{"field":"h"},"color":{"field":"g","legend":null}}},{"transform":[{"filter":"isValid(datum.s)"}],"mark":{"type":"text","dy":-3,"fontSize":6},"encoding":{"y":{"field":"h","type":"quantitative"},"text":{"field":"s"}}}]},
{"data":{"name":"m"},"transform":[{"filter":"datum.c=='Cit'"}],"encoding":{"x":{"field":"g","type":"nominal","scale":{"range":[368,391],"paddingInner":0.2,"paddingOuter":0.1},"axis":{"orient":"bottom","offset":-238,"labels":false,"ticks":false,"title":null}},"y":{"field":"v","type":"quantitative","scale":{"domain":[0,500],"range":[294,267],"nice":false},"axis":{"orient":"left","offset":-368,"values":[0,250,500],"title":null,"labelExpr":"format(datum.value,'~r')"}}},"layer":[{"mark":"bar","encoding":{"color":{"field":"g","legend":null}}},{"mark":{"type":"rule","strokeWidth":0.8},"encoding":{"y2":{"field":"h"},"color":{"field":"g","legend":null}}},{"transform":[{"filter":"isValid(datum.s)"}],"mark":{"type":"text","dy":-3,"fontSize":6},"encoding":{"y":{"field":"h","type":"quantitative"},"text":{"field":"s"}}}]},
{"data":{"name":"m"},"transform":[{"filter":"datum.c=='cAc'"}],"encoding":{"x":{"field":"g","type":"nominal","scale":{"range":[368,391],"paddingInner":0.2,"paddingOuter":0.1},"axis":{"orient":"bottom","offset":-279,"labels":false,"ticks":false,"title":null}},"y":{"field":"v","type":"quantitative","scale":{"domain":[0,500],"range":[253,225],"nice":false},"axis":{"orient":"left","offset":-368,"values":[0,250,500],"title":null,"labelExpr":"format(datum.value,'~r')"}}},"layer":[{"mark":"bar","encoding":{"color":{"field":"g","legend":null}}},{"mark":{"type":"rule","strokeWidth":0.8},"encoding":{"y2":{"field":"h"},"color":{"field":"g","legend":null}}},{"transform":[{"filter":"isValid(datum.s)"}],"mark":{"type":"text","dy":-3,"fontSize":6},"encoding":{"y":{"field":"h","type":"quantitative"},"text":{"field":"s"}}}]},
{"data":{"name":"m"},"transform":[{"filter":"datum.c=='X5P'"}],"encoding":{"x":{"field":"g","type":"nominal","scale":{"range":[415,449],"paddingInner":0.3,"paddingOuter":0.1},"axis":{"orient":"bottom","offset":-422,"labels":false,"ticks":false,"title":null}},"y":{"field":"v","type":"quantitative","scale":{"domain":[0,400],"range":[110,88],"nice":false},"axis":{"orient":"left","offset":-415,"values":[0,200,400],"title":null,"labelExpr":"format(datum.value,'~r')"}}},"layer":[{"mark":"bar","encoding":{"color":{"field":"g","legend":null}}},{"mark":{"type":"rule","strokeWidth":0.8},"encoding":{"y2":{"field":"h"},"color":{"field":"g","legend":null}}},{"transform":[{"filter":"isValid(datum.s)"}],"mark":{"type":"text","dy":-3,"fontSize":6},"encoding":{"y":{"field":"h","type":"quantitative"},"text":{"field":"s"}}}]},
{"data":{"name":"m"},"transform":[{"filter":"datum.c=='S7P'"}],"encoding":{"x":{"field":"g","type":"nominal","scale":{"range":[420,447],"paddingInner":0.2,"paddingOuter":0.1},"axis":{"orient":"bottom","offset":-365,"labels":false,"ticks":false,"title":null}},"y":{"field":"v","type":"quantitative","scale":{"domain":[0,250],"range":[167,133],"nice":false},"axis":{"orient":"left","offset":-420,"values":[0,125,250],"title":null,"labelExpr":"format(datum.value,'~r')"}}},"layer":[{"mark":"bar","encoding":{"color":{"field":"g","legend":null}}},{"mark":{"type":"rule","strokeWidth":0.8},"encoding":{"y2":{"field":"h"},"color":{"field":"g","legend":null}}},{"transform":[{"filter":"isValid(datum.s)"}],"mark":{"type":"text","dy":-3,"fontSize":6},"encoding":{"y":{"field":"h","type":"quantitative"},"text":{"field":"s"}}}]},
{"data":{"name":"m"},"transform":[{"filter":"datum.c=='E4P'"}],"encoding":{"x":{"field":"g","type":"nominal","scale":{"range":[352,396],"paddingInner":0.64,"paddingOuter":0.32},"axis":{"orient":"bottom","offset":-329,"labels":false,"ticks":false,"title":null}},"y":{"field":"v","type":"quantitative","scale":{"domain":[0,8],"range":[203,170],"nice":false},"axis":{"orient":"left","offset":-358,"values":[0,4,8],"title":null,"labelExpr":"format(datum.value,'~r')"}}},"layer":[{"mark":"bar","encoding":{"color":{"field":"g","legend":null}}},{"mark":{"type":"rule","strokeWidth":0.8},"encoding":{"y2":{"field":"h"},"color":{"field":"g","legend":null}}},{"transform":[{"filter":"isValid(datum.s)"}],"mark":{"type":"text","dy":-3,"fontSize":6},"encoding":{"y":{"field":"h","type":"quantitative"},"text":{"field":"s"}}}]},
{"data":{"name":"m"},"transform":[{"filter":"datum.c=='Gln'"}],"encoding":{"x":{"field":"g","type":"nominal","scale":{"range":[526,548],"paddingInner":0.2,"paddingOuter":0.1},"axis":{"orient":"bottom","offset":-358,"labels":false,"ticks":false,"title":null}},"y":{"field":"v","type":"quantitative","scale":{"domain":[0,4000],"range":[174,148],"nice":false},"axis":{"orient":"left","offset":-526,"values":[0,2000,4000],"title":null,"labelExpr":"format(datum.value,'~r')"}}},"layer":[{"mark":"bar","encoding":{"color":{"field":"g","legend":null}}},{"mark":{"type":"rule","strokeWidth":0.8},"encoding":{"y2":{"field":"h"},"color":{"field":"g","legend":null}}},{"transform":[{"filter":"isValid(datum.s)"}],"mark":{"type":"text","dy":-3,"fontSize":6},"encoding":{"y":{"field":"h","type":"quantitative"},"text":{"field":"s"}}}]},
{"data":{"name":"m"},"transform":[{"filter":"datum.c=='OG'"}],"encoding":{"x":{"field":"g","type":"nominal","scale":{"range":[469,492],"paddingInner":0.2,"paddingOuter":0.1},"axis":{"orient":"bottom","offset":-327,"labels":false,"ticks":false,"title":null}},"y":{"field":"v","type":"quantitative","scale":{"domain":[0,250],"range":[205,178],"nice":false},"axis":{"orient":"left","offset":-469,"values":[0,125,250],"title":null,"labelExpr":"format(datum.value,'~r')"}}},"layer":[{"mark":"bar","encoding":{"color":{"field":"g","legend":null}}},{"mark":{"type":"rule","strokeWidth":0.8},"encoding":{"y2":{"field":"h"},"color":{"field":"g","legend":null}}},{"transform":[{"filter":"isValid(datum.s)"}],"mark":{"type":"text","dy":-3,"fontSize":6},"encoding":{"y":{"field":"h","type":"quantitative"},"text":{"field":"s"}}}]},
{"data":{"name":"m"},"transform":[{"filter":"datum.c=='Glu'"}],"encoding":{"x":{"field":"g","type":"nominal","scale":{"range":[526,548],"paddingInner":0.2,"paddingOuter":0.1},"axis":{"orient":"bottom","offset":-280,"labels":false,"ticks":false,"title":null}},"y":{"field":"v","type":"quantitative","scale":{"domain":[0,6000],"range":[252,222],"nice":false},"axis":{"orient":"left","offset":-526,"values":[0,3000,6000],"title":null,"labelExpr":"format(datum.value,'~r')"}}},"layer":[{"mark":"bar","encoding":{"color":{"field":"g","legend":null}}},{"mark":{"type":"rule","strokeWidth":0.8},"encoding":{"y2":{"field":"h"},"color":{"field":"g","legend":null}}},{"transform":[{"filter":"isValid(datum.s)"}],"mark":{"type":"text","dy":-3,"fontSize":6},"encoding":{"y":{"field":"h","type":"quantitative"},"text":{"field":"s"}}}]},
{"data":{"name":"m"},"transform":[{"filter":"datum.c=='GSH'"}],"encoding":{"x":{"field":"g","type":"nominal","scale":{"range":[587,610],"paddingInner":0.2,"paddingOuter":0.1},"axis":{"orient":"bottom","offset":-326,"labels":false,"ticks":false,"title":null}},"y":{"field":"v","type":"quantitative","scale":{"domain":[0,4000],"range":[206,179],"nice":false},"axis":{"orient":"left","offset":-587,"values":[0,2000,4000],"title":null,"labelExpr":"format(datum.value,'~r')"}}},"layer":[{"mark":"bar","encoding":{"color":{"field":"g","legend":null}}},{"mark":{"type":"rule","strokeWidth":0.8},"encoding":{"y2":{"field":"h"},"color":{"field":"g","legend":null}}},{"transform":[{"filter":"isValid(datum.s)"}],"mark":{"type":"text","dy":-3,"fontSize":6},"encoding":{"y":{"field":"h","type":"quantitative"},"text":{"field":"s"}}}]},
{"data":{"name":"m"},"transform":[{"filter":"datum.c=='GSSG'"}],"encoding":{"x":{"field":"g","type":"nominal","scale":{"range":[655,678],"paddingInner":0.2,"paddingOuter":0.1},"axis":{"orient":"bottom","offset":-326,"labels":false,"ticks":false,"title":null}},"y":{"field":"v","type":"quantitative","scale":{"domain":[0,2000],"range":[206,178],"nice":false},"axis":{"orient":"left","offset":-655,"values":[0,1000,2000],"title":null,"labelExpr":"format(datum.value,'~r')"}}},"layer":[{"mark":"bar","encoding":{"color":{"field":"g","legend":null}}},{"mark":{"type":"rule","strokeWidth":0.8},"encoding":{"y2":{"field":"h"},"color":{"field":"g","legend":null}}},{"transform":[{"filter":"isValid(datum.s)"}],"mark":{"type":"text","dy":-3,"fontSize":6},"encoding":{"y":{"field":"h","type":"quantitative"},"text":{"field":"s"}}}]},
{"data":{"name":"m"},"transform":[{"filter":"datum.c=='Suc'"}],"encoding":{"x":{"field":"g","type":"nominal","scale":{"range":[519,543],"paddingInner":0.2,"paddingOuter":0.1},"axis":{"orient":"bottom","offset":-247,"labels":false,"ticks":false,"title":null}},"y":{"field":"v","type":"quantitative","scale":{"domain":[0,200],"range":[285,257],"nice":false},"axis":{"orient":"left","offset":-519,"values":[0,100,200],"title":null,"labelExpr":"format(datum.value,'~r')"}}},"layer":[{"mark":"bar","encoding":{"color":{"field":"g","legend":null}}},{"mark":{"type":"rule","strokeWidth":0.8},"encoding":{"y2":{"field":"h"},"color":{"field":"g","legend":null}}},{"transform":[{"filter":"isValid(datum.s)"}],"mark":{"type":"text","dy":-3,"fontSize":6},"encoding":{"y":{"field":"h","type":"quantitative"},"text":{"field":"s"}}}]},
{"data":{"name":"m"},"transform":[{"filter":"datum.c=='Fum'"}],"encoding":{"x":{"field":"g","type":"nominal","scale":{"range":[519,543],"paddingInner":0.2,"paddingOuter":0.1},"axis":{"orient":"bottom","offset":-213,"labels":false,"ticks":false,"title":null}},"y":{"field":"v","type":"quantitative","scale":{"domain":[0,160],"range":[319,293],"nice":false},"axis":{"orient":"left","offset":-519,"values":[0,80,160],"title":null,"labelExpr":"format(datum.value,'~r')"}}},"layer":[{"mark":"bar","encoding":{"color":{"field":"g","legend":null}}},{"mark":{"type":"rule","strokeWidth":0.8},"encoding":{"y2":{"field":"h"},"color":{"field":"g","legend":null}}},{"transform":[{"filter":"isValid(datum.s)"}],"mark":{"type":"text","dy":-3,"fontSize":6},"encoding":{"y":{"field":"h","type":"quantitative"},"text":{"field":"s"}}}]},
{"data":{"name":"m"},"transform":[{"filter":"datum.c=='Mal'"}],"encoding":{"x":{"field":"g","type":"nominal","scale":{"range":[519,543],"paddingInner":0.2,"paddingOuter":0.1},"axis":{"orient":"bottom","offset":-177,"labels":false,"ticks":false,"title":null}},"y":{"field":"v","type":"quantitative","scale":{"domain":[0,800],"range":[355,327],"nice":false},"axis":{"orient":"left","offset":-519,"values":[0,400,800],"title":null,"labelExpr":"format(datum.value,'~r')"}}},"layer":[{"mark":"bar","encoding":{"color":{"field":"g","legend":null}}},{"mark":{"type":"rule","strokeWidth":0.8},"encoding":{"y2":{"field":"h"},"color":{"field":"g","legend":null}}},{"transform":[{"filter":"isValid(datum.s)"}],"mark":{"type":"text","dy":-3,"fontSize":6},"encoding":{"y":{"field":"h","type":"quantitative"},"text":{"field":"s"}}}]},
{"data":{"name":"m"},"transform":[{"filter":"datum.c=='TG'"}],"encoding":{"x":{"field":"g","type":"nominal","scale":{"range":[313,365],"paddingInner":0.3,"paddingOuter":0.15},"axis":{"orient":"bottom","offset":-90,"labels":false,"ticks":false,"title":null,"domainColor":"#666"}},"y":{"field":"v","type":"quantitative","scale":{"domain":[0,7000],"range":[442,393],"nice":false},"axis":{"orient":"left","offset":-313,"values":[0,1000,2000,3000,4000,5000,6000,7000],"title":"pmol/10⁶ cells","labelFontSize":6,"domainColor":"#666","labelExpr":"format(datum.value,'~r')"}}},"layer":[{"mark":"bar","encoding":{"color":{"field":"g","legend":null}}},{"mark":{"type":"rule","strokeWidth":0.8},"encoding":{"y2":{"field":"h"},"color":{"field":"g","legend":null}}},{"transform":[{"filter":"isValid(datum.s)"}],"mark":{"type":"text","dy":-4,"fontSize":6},"encoding":{"y":{"field":"h","type":"quantitative"},"text":{"field":"s"}}}]},
{"data":{"name":"m"},"transform":[{"filter":"datum.c=='GG'"}],"encoding":{"x":{"field":"g","type":"nominal","scale":{"range":[393,445],"paddingInner":0.3,"paddingOuter":0.15},"axis":{"orient":"bottom","offset":-91,"labels":false,"ticks":false,"title":null,"domainColor":"#666"}},"y":{"field":"v","type":"quantitative","scale":{"domain":[0,10],"range":[441,395],"nice":false},"axis":{"orient":"left","offset":-393,"values":[0,5,10],"title":"Ratio","labelFontSize":6,"domainColor":"#666","labelExpr":"format(datum.value,'~r')"}}},"layer":[{"mark":"bar","encoding":{"color":{"field":"g","legend":null}}},{"mark":{"type":"rule","strokeWidth":0.8},"encoding":{"y2":{"field":"h"},"color":{"field":"g","legend":null}}},{"transform":[{"filter":"isValid(datum.s)"}],"mark":{"type":"text","dy":-4,"fontSize":6},"encoding":{"y":{"field":"h","type":"quantitative"},"text":{"field":"s"}}}]},
{"data":{"name":"m"},"transform":[{"filter":"datum.c=='GR'"}],"encoding":{"x":{"field":"g","type":"nominal","scale":{"range":[472,530],"paddingInner":0.3,"paddingOuter":0.15},"axis":{"orient":"bottom","offset":-91,"labels":false,"ticks":false,"title":null,"domainColor":"#666"}},"y":{"field":"v","type":"quantitative","scale":{"domain":[0,70],"range":[441,393],"nice":false},"axis":{"orient":"left","offset":-472,"values":[0,10,20,30,40,50,60,70],"title":"Ratio","labelFontSize":6,"domainColor":"#666","labelExpr":"format(datum.value,'~r')"}}},"layer":[{"mark":"bar","encoding":{"color":{"field":"g","legend":null}}},{"mark":{"type":"rule","strokeWidth":0.8},"encoding":{"y2":{"field":"h"},"color":{"field":"g","legend":null}}},{"transform":[{"filter":"isValid(datum.s)"}],"mark":{"type":"text","dy":-4,"fontSize":6},"encoding":{"y":{"field":"h","type":"quantitative"},"text":{"field":"s"}}}]},
{"data":{"name":"m"},"transform":[{"filter":"datum.c=='TGlu'"}],"encoding":{"x":{"field":"g","type":"nominal","scale":{"range":[559,617],"paddingInner":0.3,"paddingOuter":0.15},"axis":{"orient":"bottom","offset":-91,"labels":false,"ticks":false,"title":null,"domainColor":"#666"}},"y":{"field":"v","type":"quantitative","scale":{"domain":[0,12000],"range":[441,393],"nice":false},"axis":{"orient":"left","offset":-559,"values":[0,2000,4000,6000,8000,10000,12000],"title":"pmol/10⁶ cells","labelFontSize":6,"domainColor":"#666","labelExpr":"format(datum.value,'~r')"}}},"layer":[{"mark":"bar","encoding":{"color":{"field":"g","legend":null}}},{"mark":{"type":"rule","strokeWidth":0.8},"encoding":{"y2":{"field":"h"},"color":{"field":"g","legend":null}}},{"transform":[{"filter":"isValid(datum.s)"}],"mark":{"type":"text","dy":-4,"fontSize":6},"encoding":{"y":{"field":"h","type":"quantitative"},"text":{"field":"s"}}}]},
{"data":{"name":"m"},"transform":[{"filter":"datum.c=='LP'"}],"encoding":{"x":{"field":"g","type":"nominal","scale":{"range":[304,370],"paddingInner":0.3,"paddingOuter":0.15},"axis":{"orient":"bottom","offset":-5,"labels":false,"ticks":false,"title":null,"domainColor":"#666"}},"y":{"field":"v","type":"quantitative","scale":{"domain":[0,25],"range":[527,482],"nice":false},"axis":{"orient":"left","offset":-304,"values":[0,5,10,15,20,25],"title":"Ratio","labelFontSize":6,"domainColor":"#666","labelExpr":"format(datum.value,'~r')"}}},"layer":[{"mark":"bar","encoding":{"color":{"field":"g","legend":null}}},{"mark":{"type":"rule","strokeWidth":0.8},"encoding":{"y2":{"field":"h"},"color":{"field":"g","legend":null}}},{"transform":[{"filter":"isValid(datum.s)"}],"mark":{"type":"text","dy":-4,"fontSize":6},"encoding":{"y":{"field":"h","type":"quantitative"},"text":{"field":"s"}}}]},
{"data":{"name":"m"},"transform":[{"filter":"datum.c=='G2'"}],"encoding":{"x":{"field":"g","type":"nominal","scale":{"range":[393,445],"paddingInner":0.3,"paddingOuter":0.15},"axis":{"orient":"bottom","offset":-5,"labels":false,"ticks":false,"title":null,"domainColor":"#666"}},"y":{"field":"v","type":"quantitative","scale":{"domain":[0,70],"range":[527,477],"nice":false},"axis":{"orient":"left","offset":-393,"values":[0,10,20,30,40,50,60,70],"title":"Ratio","labelFontSize":6,"domainColor":"#666","labelExpr":"format(datum.value,'~r')"}}},"layer":[{"mark":"bar","encoding":{"color":{"field":"g","legend":null}}},{"mark":{"type":"rule","strokeWidth":0.8},"encoding":{"y2":{"field":"h"},"color":{"field":"g","legend":null}}},{"transform":[{"filter":"isValid(datum.s)"}],"mark":{"type":"text","dy":-4,"fontSize":6},"encoding":{"y":{"field":"h","type":"quantitative"},"text":{"field":"s"}}}]},
{"data":{"name":"m"},"transform":[{"filter":"datum.c=='TOAA'"}],"encoding":{"x":{"field":"g","type":"nominal","scale":{"range":[473,530],"paddingInner":0.3,"paddingOuter":0.15},"axis":{"orient":"bottom","offset":-5,"labels":false,"ticks":false,"title":null,"domainColor":"#666"}},"y":{"field":"v","type":"quantitative","scale":{"domain":[0,1000],"range":[527,473],"nice":false},"axis":{"orient":"left","offset":-473,"values":[0,200,400,600,800,1000],"title":"pmol/10⁶ cells","labelFontSize":6,"domainColor":"#666","labelExpr":"format(datum.value,'~r')"}}},"layer":[{"mark":"bar","encoding":{"color":{"field":"g","legend":null}}},{"mark":{"type":"rule","strokeWidth":0.8},"encoding":{"y2":{"field":"h"},"color":{"field":"g","legend":null}}},{"transform":[{"filter":"isValid(datum.s)"}],"mark":{"type":"text","dy":-4,"fontSize":6},"encoding":{"y":{"field":"h","type":"quantitative"},"text":{"field":"s"}}}]},
{"data":{"name":"m"},"transform":[{"filter":"datum.c=='MA'"}],"encoding":{"x":{"field":"g","type":"nominal","scale":{"range":[562,625],"paddingInner":0.3,"paddingOuter":0.15},"axis":{"orient":"bottom","offset":-5,"labels":false,"ticks":false,"title":null,"domainColor":"#666"}},"y":{"field":"v","type":"quantitative","scale":{"domain":[0,1],"range":[527,473],"nice":false},"axis":{"orient":"left","offset":-562,"values":[0,0.2,0.4,0.6,0.8,1],"title":"Ratio","labelFontSize":6,"domainColor":"#666","labelExpr":"format(datum.value,'~r')"}}},"layer":[{"mark":"bar","encoding":{"color":{"field":"g","legend":null}}},{"mark":{"type":"rule","strokeWidth":0.8},"encoding":{"y2":{"field":"h"},"color":{"field":"g","legend":null}}},{"transform":[{"filter":"isValid(datum.s)"}],"mark":{"type":"text","dy":-4,"fontSize":6},"encoding":{"y":{"field":"h","type":"quantitative"},"text":{"field":"s"}}}]}
]
}
